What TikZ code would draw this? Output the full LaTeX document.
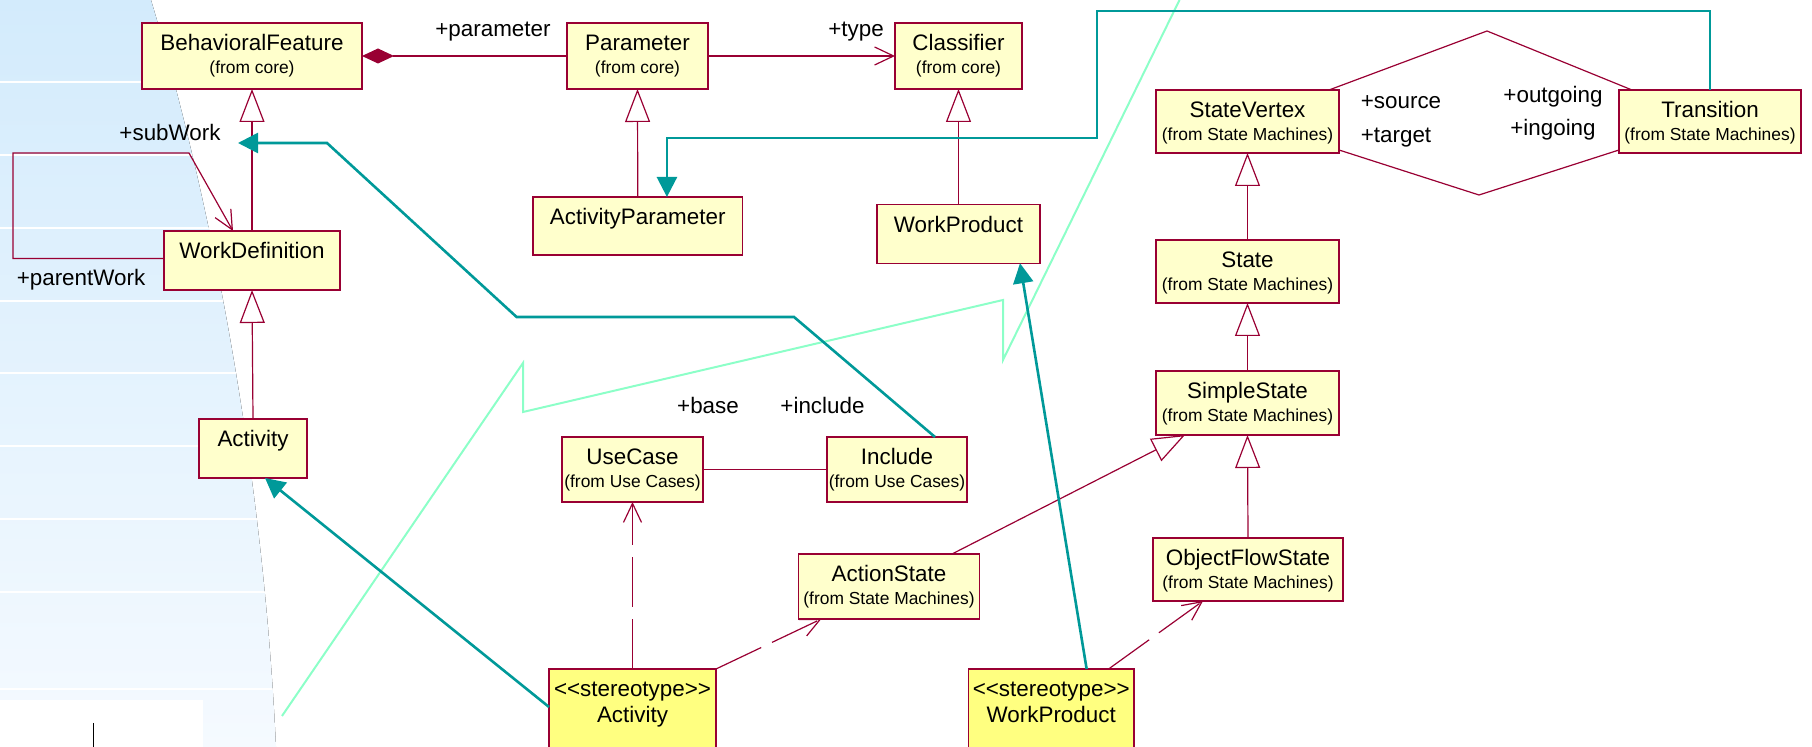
\documentclass[tikz,border=0pt]{standalone}
\usepackage{fontspec}
\setmainfont{Liberation Sans}
\usetikzlibrary{arrows.meta}
\definecolor{umlred}{RGB}{153,0,51}
\definecolor{umlfill}{RGB}{255,255,204}
\definecolor{stereofill}{RGB}{255,255,128}
\definecolor{traceteal}{RGB}{0,153,153}
\definecolor{zigzag}{RGB}{140,255,200}
\definecolor{bgtop}{RGB}{211,235,252}
\definecolor{bgbottom}{RGB}{245,250,255}

\newcommand{\namefont}{\fontsize{11.2}{13}\selectfont}
\newcommand{\fromfont}{\fontsize{8.7}{11.5}\selectfont}
\newcommand{\clsbox}[4]{\parbox[c][#2][t]{#1}{\centering\rule{0pt}{14pt}\namefont #3\par\fromfont #4\par}}
\newcommand{\stereoname}{<\kern0pt<stereotype>\kern0pt>}

\begin{document}
\begin{tikzpicture}[x=0.5pt,y=-0.5pt,
  cls/.style={draw=umlred, fill=umlfill, line width=0.7pt, inner sep=0pt, outer sep=0pt},
  stereo/.style={cls, fill=stereofill},
  assoc/.style={draw=umlred, line width=0.6pt},
  gen/.style={assoc, -{Triangle[open, length=16.5pt, width=12.5pt]}},
  nav/.style={assoc, -{Straight Barb[length=9.5pt, width=9pt]}},
  dep/.style={nav, dash pattern=on 25pt off 6pt},
  trace/.style={draw=traceteal, line width=1.3pt, -{Triangle[length=10pt, width=10pt]}},
  role/.style={font=\namefont, inner sep=0pt}]

\useasboundingbox (0,0) rectangle (1812,747);

% background slide
\fill[top color=bgtop, bottom color=bgbottom] (0,0) -- (151,0) .. controls (205,180) and (262,450) .. (276,747) -- (0,747) -- cycle;
\begin{scope}
\clip (0,0) -- (151,0) .. controls (205,180) and (262,450) .. (276,747) -- (0,747) -- cycle;
\foreach \y in {82,155,228,301,373,446,519,592,689}
  \draw[white, line width=0.6pt] (0,\y) -- (300,\y);
\end{scope}
\fill[white] (0,700) rectangle (203,747);
\draw[line width=0.5pt] (93,723) -- (93,747);

\draw[zigzag, line width=1pt] (1179.5,0) -- (1003,360) -- (1003,300) -- (523,412) -- (523,363) -- (282,716);

% classes
\node[cls] (bf) at (252,56) {\clsbox{110pt}{33pt}{BehavioralFeature}{(from core)}};
\node[cls] (par) at (637.5,56) {\clsbox{70.5pt}{33pt}{Parameter}{(from core)}};
\node[cls] (cls) at (958.5,56) {\clsbox{63.5pt}{33pt}{Classifier}{(from core)}};
\node[cls] (wdef) at (252,260.5) {\clsbox{88pt}{29.5pt}{WorkDefinition}{}};
\node[cls] (act) at (253,448.5) {\clsbox{54pt}{29.5pt}{Activity}{}};
\node[cls] (apar) at (637.75,226) {\clsbox{104.75pt}{29pt}{ActivityParameter}{}};
\node[cls] (wprod) at (958.5,234) {\clsbox{81.5pt}{29.25pt}{WorkProduct}{}};
\node[cls] (sv) at (1247.5,121.5) {\clsbox{91.5pt}{31.5pt}{StateVertex}{(from State Machines)}};
\node[cls] (tr) at (1710,121.5) {\clsbox{91pt}{31.5pt}{Transition}{(from State Machines)}};
\node[cls] (st) at (1247.5,271.5) {\clsbox{91.5pt}{31.5pt}{State}{(from State Machines)}};
\node[cls] (sst) at (1247.5,403) {\clsbox{91.5pt}{32pt}{SimpleState}{(from State Machines)}};
\node[cls] (ofs) at (1248,569.5) {\clsbox{95pt}{31.5pt}{ObjectFlowState}{(from State Machines)}};
\node[cls] (uc) at (632.5,469.5) {\clsbox{70.5pt}{32.5pt}{UseCase}{(from Use Cases)}};
\node[cls] (inc) at (897,469.5) {\clsbox{70pt}{32.5pt}{Include}{(from Use Cases)}};
\node[cls] (ast) at (889,586.5) {\clsbox{90.75pt}{32.5pt}{ActionState}{(from State Machines)}};
\node[stereo] (sact) at (632.5,722) {\clsbox{83.5pt}{53pt}{\stereoname}{\namefont Activity}};
\node[stereo] (swp) at (1051.25,722) {\clsbox{82.75pt}{53pt}{\stereoname}{\namefont WorkProduct}};

% generalizations
\draw[gen] (wdef.north) -- (bf.south);
\draw[gen] (act.north) -- (wdef.south);
\draw[gen] (apar.north) -- (par.south);
\draw[gen] (wprod.north) -- (cls.south);
\draw[gen] (st.north) -- (sv.south);
\draw[gen] (sst.north) -- (st.south);
\draw[gen] (ofs.north) -- (sst.south);
\draw[gen] ([xshift=31.5pt]ast.north) -- ([xshift=14.5pt]sst.south west);

% associations
\draw[assoc, {Diamond[length=16pt, width=7.5pt]}-] (bf.east) -- (par.west);
\draw[nav] (par.east) -- (cls.west);
\draw[nav] ([yshift=1pt]wdef.west) -| (13,153) -- (189,153) -- ([xshift=-9.5pt]wdef.north);
\draw[assoc] (uc.east) -- (inc.west);
\draw[assoc] ([xshift=-5pt]sv.north east) -- (1487,31) -- ([xshift=6.5pt]tr.north west);
\draw[assoc] ([yshift=1.5pt]sv.south east) -- (1479,195) -- ([yshift=1.5pt]tr.south west);

% dependencies
\draw[dep] (sact.north) -- (uc.south);
\draw[dep] (sact.north east) -- ([xshift=11.5pt]ast.south west);
\draw[dep] ([xshift=-12.7pt]swp.north east) -- ([xshift=25pt]ofs.south west);

% traces
\coordinate (subtip) at (238,143);
\draw[trace] ([xshift=19pt]inc.north) -- (794,317) -- (516.6,317) -- (327,143) -- (subtip);
\draw[trace] (tr.north) |- (1097,11) -- (1097,138) -| ([xshift=14.6pt]apar.north);
\draw[trace] ([yshift=-19pt]sact.north west) -- ([xshift=6pt]act.south);
\draw[trace] ([xshift=17.7pt]swp.north) -- ([xshift=30.75pt]wprod.south);

% role names
\node[role] (lblpar) at (493,32) {+parameter};
\node[role] (lbltype) at (856,32) {+type};
\node[role] (lblsub) at (170,133) {+subWork};
\node[role] (lblparent) at (81,280) {+parentWork};
\node[role] (lblsrc) at (1401,102) {+source};
\node[role] (lbltgt) at (1396,138) {+target};
\node[role] (lblout) at (1553,97) {+outgoing};
\node[role] (lblin) at (1553,130) {+ingoing};
\node[role] (lblbase) at (708,406) {+base};
\node[role] (lblinc) at (822.5,406) {+include};
\end{tikzpicture}
\end{document}
